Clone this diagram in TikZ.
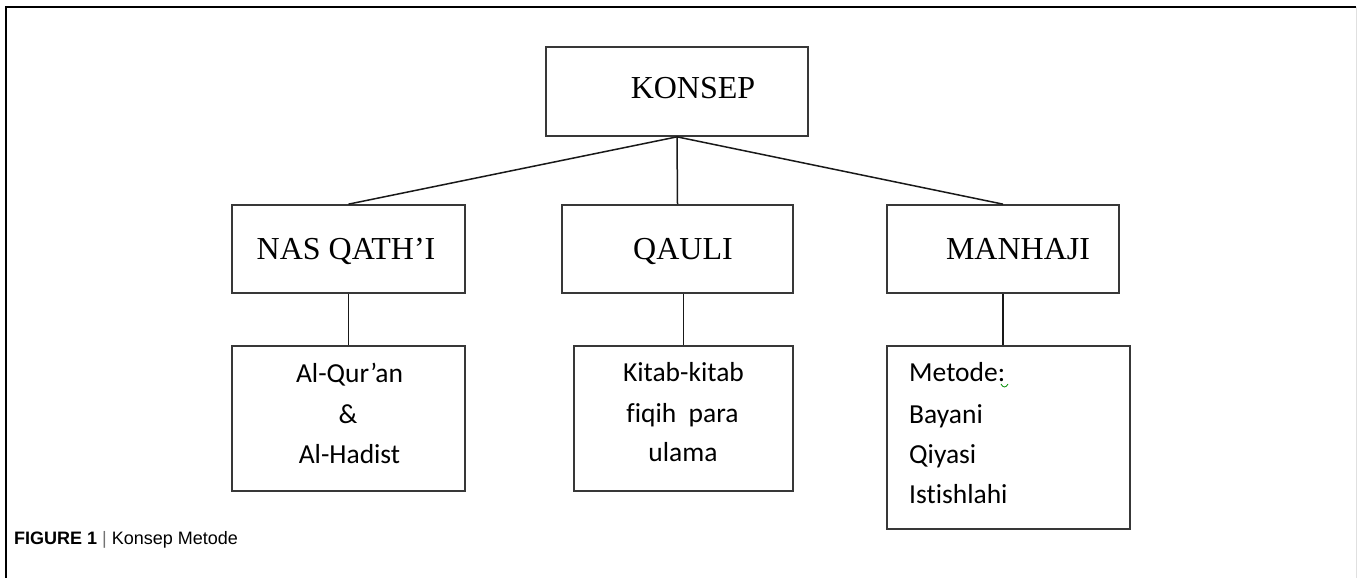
\documentclass[tikz,border=0pt]{standalone}
\usepackage{fontspec}
\setmainfont{Liberation Serif}
\newfontfamily\calfont[Ligatures={NoCommon}]{Carlito}
\newfontfamily\capfont{Liberation Sans}
\begin{document}
\begin{tikzpicture}[x=1pt,y=-1pt,
  box/.style={draw=black!78, line width=1.7pt, inner sep=0pt},
  conn/.style={draw=black!90, line width=1.5pt},
  ttl/.style={anchor=base, inner sep=0pt, font=\fontsize{32}{36}\selectfont},
  lbl/.style={anchor=base, inner sep=0pt, font=\calfont\fontsize{27.5}{30}\selectfont},
  lbll/.style={anchor=base west, inner sep=0pt, font=\calfont\fontsize{27.5}{30}\selectfont}]
\useasboundingbox (0,0) rectangle (1357,578);
% outer frame
\draw[black, line width=1.2pt] (6,578) -- (6,7) -- (1356,7);
\draw[black!12, line width=1pt] (1356,7) -- (1356,578);
% boxes
\node[box, minimum width=262pt, minimum height=89pt] (konsep) at (677,91.5) {};
\node[box, minimum width=233pt, minimum height=88pt] (nas) at (348.5,249) {};
\node[box, minimum width=231pt, minimum height=88pt] (qauli) at (677.5,249) {};
\node[box, minimum width=232pt, minimum height=88pt] (manhaji) at (1003,249) {};
\node[box, minimum width=233pt, minimum height=145pt] (quran) at (348.5,418.5) {};
\node[box, minimum width=219pt, minimum height=145pt] (kitab) at (683.5,418.5) {};
\node[box, minimum width=243pt, minimum height=183pt] (metode) at (1008.5,437.5) {};
% connectors
\draw[conn] (konsep.south) -- (nas.north);
\draw[conn] (konsep.south) -- (qauli.north);
\draw[conn] (konsep.south) -- (manhaji.north);
\draw[conn] (nas.south) -- (quran.north);
\draw[conn] (kitab.north) -- (kitab.north |- qauli.south);
\draw[conn] (manhaji.south) -- (manhaji.south |- metode.north);
% titles
\node[ttl] (tkonsep) at (693,98) {KONSEP};
\node[ttl] (tnas) at (346,259) {NAS QATH’I};
\node[ttl] (tqauli) at (683,259) {QAULI};
\node[ttl] (tmanhaji) at (1018,259) {MANHAJI};
% lower texts
\node[lbl] (q1) at (349.5,382) {Al-Qur’an};
\node[lbl] (q2) at (348,423) {\&};
\node[lbl] (q3) at (349.5,463) {Al-Hadist};
\node[lbl] (k1) at (683.5,381) {Kitab-kitab};
\node[lbl] (k2) at (682.5,422) {fiqih\ \ para};
\node[lbl] (k3) at (683,461) {ulama};
\node[lbll] (m1) at (909,381) {Metode:};
\node[lbll] (m2) at (909,423) {Bayani};
\node[lbll] (m3) at (909,463) {Qiyasi};
\node[lbll] (m4) at (909,503) {Istishlahi};
\draw[green!55!black, line width=0.8pt] (1001,384) .. controls (1003,388) and (1006,388) .. (1008,384);
% caption
\node[anchor=base west, inner sep=0pt, font=\capfont\fontsize{18}{22}\selectfont] (cap) at (14,544)
  {\textbf{FIGURE 1} \textcolor{black!55}{|} Konsep Metode};
\end{tikzpicture}
\end{document}
